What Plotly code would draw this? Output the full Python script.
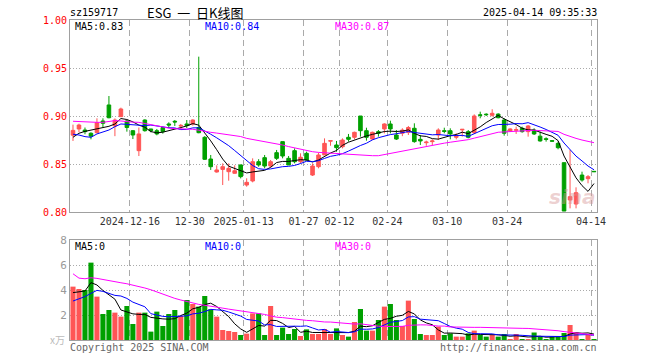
import plotly.graph_objects as go
import pandas as pd

# ---------------- data ----------------
holidays = ['2025-01-01', '2025-01-28', '2025-01-29', '2025-01-30', '2025-01-31',
            '2025-02-03', '2025-02-04', '2025-04-04']
dates = [d.strftime('%Y-%m-%d') for d in pd.bdate_range('2024-12-02', '2025-04-14')
         if d.strftime('%Y-%m-%d') not in holidays]

opens = [.880, .8865, .8854, .882, .8826, .8948, .9115, .8896, .8993, .8948,
         .8847, .8639, .8958, .8865, .8847, .888, .8917, .8945, .8895, .8917,
         .8917, .888, .8778, .8552, .8417, .8444, .842, .8403, .849, .8281,
         .8323, .8524, .8566, .8479, .8618, .8733, .8559, .8639, .8524, .8611,
         .8385, .8472, .8594, .8738, .8698, .868, .8778, .8778, .900, .8847,
         .876, .8837, .8865, .8917, .8802, .882, .883, .8872, .8757, .8722,
         .8733, .8802, .8847, .8847, .8778, .8855, .8837, .8826, .9012, .9019,
         .9007, .902, .8958, .8844, .8851, .8872, .8837, .8854, .879, .8763,
         .8743, .8715, .8514, .8125, .8083, .8385, .8347, .8424]
highs = [.891, .892, .888, .883, .8976, .8976, .9208, .8975, .9087, .8958,
         .8854, .888, .8965, .8866, .8865, .8886, .8934, .8958, .8917, .8958,
         .8965, .9618, .879, .8594, .8486, .8507, .8507, .8486, .8493, .8351,
         .8559, .855, .8594, .8542, .8646, .8733, .8583, .8663, .8611, .8628,
         .8507, .8618, .8767, .8743, .874, .8767, .8813, .8837, .900, .8878,
         .8837, .8854, .8924, .8951, .8854, .8872, .8896, .8924, .8802, .8743,
         .8757, .8872, .8878, .8872, .882, .8861, .8854, .9017, .9045, .9028,
         .907, .9028, .8976, .8872, .8889, .8889, .8906, .8872, .8837, .8778,
         .8747, .8733, .8514, .8646, .8257, .842, .8385, .8424]
lows = [.874, .883, .881, .8757, .882, .888, .8976, .879, .899, .8837,
        .876, .8583, .8837, .883, .8799, .8816, .8875, .8896, .8865, .8875,
        .890, .882, .8542, .8438, .841, .8281, .8326, .840, .835, .8264,
        .8309, .8472, .8455, .8465, .8542, .8559, .849, .8507, .8507, .8535,
        .8375, .8455, .8594, .869, .8628, .8663, .8733, .8757, .8785, .8743,
        .875, .8785, .8819, .8819, .875, .879, .8802, .8722, .8698, .869,
        .8698, .875, .882, .8757, .8757, .8785, .8767, .8813, .8976, .900,
        .8993, .8976, .8795, .8837, .8813, .8826, .8785, .8802, .8733, .8733,
        .8736, .8653, .801, .8038, .8038, .8316, .8299, .8417]
closes = [.885, .8906, .8837, .879, .893, .8924, .8982, .8958, .9073, .888,
          .8802, .8813, .8847, .8847, .8813, .8837, .8906, .8938, .8902, .89,
          .8958, .8826, .8549, .8472, .8438, .8472, .8455, .843, .8368, .8309,
          .8524, .849, .8479, .8524, .8559, .8583, .849, .8524, .857, .8542,
          .8479, .8594, .8715, .8743, .867, .875, .8757, .883, .8847, .8778,
          .883, .882, .8917, .8865, .876, .8854, .888, .8733, .874, .8728,
          .874, .8854, .884, .8813, .879, .8861, .8778, .900, .9007, .9014,
          .9028, .8982, .882, .8865, .8858, .8837, .8896, .8813, .874, .8757,
          .8738, .867, .801, .816, .8201, .8333, .8368, .842]
volumes = [4.27, 4.08, 4.0, 6.19, 3.47, 2.08, 2.4, 2.19, 1.87, 2.72,
           1.28, 2.19, 2.19, 0.67, 2.27, 1.12, 2.08, 2.4, 1.92, 3.2,
           2.88, 2.67, 3.52, 2.45, 1.87, 0.8, 0.72, 0.64, 0.4, 0.51,
           2.13, 2.13, 0.4, 2.72, 0.4, 0.99, 0.48, 0.88, 0.32, 0.85,
           0.48, 0.48, 0.88, 0.48, 0.93, 0.4, 0.27, 1.44, 2.48, 0.75,
           0.75, 1.6, 2.67, 2.88, 1.6, 1.12, 3.15, 1.68, 0.48, 0.4,
           0.4, 1.07, 0.4, 0.53, 0.27, 0.27, 0.53, 0.75, 0.4, 0.27,
           0.4, 0.27, 0.48, 0.08, 0.48, 0.08, 0.08, 0.6, 0.27, 0.08,
           0.27, 0.27, 0.56, 1.2, 0.6, 0.08, 0.4, 0.08]

# moving-average values for days before a full window exists
price_ma5_head = [.8778, .882, .884, .8854]
price_ma10_head = [.881, .8802, .8785, .8778, .8813, .8837, .8854, .8889, .8917]
price_ma30_head = [.8945, .8941, .8938, .8936, .8934, .8934, .8945, .8952, .8948, .894,
                   .8936, .8934, .8922, .891, .8895, .8882, .8874, .8868, .8866, .8865,
                   .8862, .8852, .8838, .883, .8822, .8813, .8804, .8795, .8786]
vol_ma5_head = [3.79, 3.84, 3.92, 4.59]
vol_ma10_head = [3.12, 3.28, 3.47, 3.73, 3.97, 3.89, 3.73, 3.57, 3.52]
vol_ma30_head = [5.3, 4.95, 4.9, 4.98, 4.93, 4.83, 4.75, 4.68, 4.58, 4.5,
                 4.4, 4.27, 4.16, 4.02, 3.85, 3.65, 3.45, 3.33, 3.2, 3.08,
                 2.95, 2.85, 2.78, 2.72, 2.62, 2.55, 2.47, 2.4, 2.33]

tick_dates = ['2024-12-16', '2024-12-30', '2025-01-13', '2025-01-27', '2025-02-12',
              '2025-02-24', '2025-03-10', '2025-03-24', '2025-04-14']
tick_labels = ['2024-12-16', '12-30', '2025-01-13', '01-27', '02-12',
               '02-24', '03-10', '03-24', '04-14']
price_ticks = [0.80, 0.85, 0.90, 0.95, 1.00]
vol_ticks = [2, 4, 6, 8]

# ---------------- derived ----------------
xs = list(range(len(dates)))


def ma(values, n, head):
    s = pd.Series(values).rolling(n).mean().tolist()
    s[:n - 1] = head
    return s


pma5, pma10, pma30 = ma(closes, 5, price_ma5_head), ma(closes, 10, price_ma10_head), ma(closes, 30, price_ma30_head)
vma5, vma10, vma30 = ma(volumes, 5, vol_ma5_head), ma(volumes, 10, vol_ma10_head), ma(volumes, 30, vol_ma30_head)

UP = '#FF5555'
DN = '#00A000'
vol_colors = [UP if c > o else DN for o, c in zip(opens, closes)]
tickvals = [dates.index(d) - 0.5 for d in tick_dates]

fig = go.Figure()
fig.add_trace(go.Candlestick(
    x=xs, open=opens, high=highs, low=lows, close=closes,
    increasing=dict(line=dict(color=UP, width=1), fillcolor=UP),
    decreasing=dict(line=dict(color=DN, width=1), fillcolor=DN),
    whiskerwidth=0, hoverinfo='skip', xaxis='x', yaxis='y'))
for vals, col in [(pma5, 'black'), (pma10, '#0000FF'), (pma30, '#FF00FF')]:
    fig.add_trace(go.Scatter(x=xs, y=vals, mode='lines', line=dict(color=col, width=1),
                             hoverinfo='skip', xaxis='x', yaxis='y'))

fig.add_trace(go.Bar(x=xs, y=volumes, marker=dict(color=vol_colors, line=dict(width=0)),
                     hoverinfo='skip', xaxis='x2', yaxis='y2'))
for vals, col in [(vma5, 'black'), (vma10, '#0000FF'), (vma30, '#FF00FF')]:
    fig.add_trace(go.Scatter(x=xs, y=vals, mode='lines', line=dict(color=col, width=1),
                             hoverinfo='skip', xaxis='x2', yaxis='y2'))

MONO = 'DejaVu Sans Mono'
GRID = '#AAAAAA'
BORDER = '#A0A0A0'

common_x = dict(range=[-0.5, len(xs) - 0.5], tickvals=tickvals, showgrid=True, gridcolor=GRID,
                griddash='6px,4px', gridwidth=1, showline=True, mirror=True, linecolor=BORDER,
                linewidth=1, ticks='', zeroline=False, tickangle=0, fixedrange=True)

fig.update_layout(
    width=660, height=360,
    margin=dict(l=70, r=63, t=20, b=20),
    paper_bgcolor='white', plot_bgcolor='white',
    showlegend=False, boxgap=0.15, bargap=0.15,
    xaxis=dict(common_x, anchor='y', ticktext=tick_labels, rangeslider=dict(visible=False),
               tickfont=dict(family=MONO, size=10, color='#333333')),
    yaxis=dict(domain=[0.4, 1.0], range=[0.80, 1.00], tickvals=price_ticks,
               ticktext=['%.2f' % v for v in price_ticks], showgrid=True, gridcolor=GRID,
               griddash='1px,2px', showline=True, mirror=True, linecolor=BORDER, ticks='',
               zeroline=False, tickfont=dict(family=MONO, size=10, color='#FF0000')),
    xaxis2=dict(common_x, anchor='y2', matches='x', showticklabels=False),
    yaxis2=dict(domain=[0.0, 0.3125], range=[0, 8], tickvals=vol_ticks,
                ticktext=[str(v) for v in vol_ticks], showgrid=True, gridcolor=GRID,
                griddash='1px,2px', showline=True, mirror=True, linecolor=BORDER, ticks='',
                zeroline=False, tickfont=dict(family=MONO, size=11, color='#999999')),
)


def px(x):
    return (x - 70) / 527.0


def py(y):
    return (340 - y) / 320.0


def text(x, y, s, color='black', anchor='left', size=10, family=MONO, **kw):
    fig.add_annotation(x=px(x), y=py(y), xref='paper', yref='paper', text=s, showarrow=False,
                       xanchor=anchor, yanchor='middle', borderpad=0,
                       font=dict(family=family, size=size, color=color, **kw))


text(69, 12.5, 'sz159717')
text(146, 12.5, 'ESG  一  日K线图', size=13, family='Noto Sans CJK SC')
text(598, 12.5, '2025-04-14 09:35:33', anchor='right')
text(74, 26, 'MA5:0.83')
text(204, 26, 'MA10:0.84', color='#0000FF')
text(334, 26, 'MA30:0.87', color='#FF00FF')
text(74, 246, 'MA5:0')
text(204, 246, 'MA10:0', color='#0000FF')
text(334, 246, 'MA30:0', color='#FF00FF')
text(66, 339, 'x万', color='#BBBBBB', anchor='right', family='Noto Sans CJK SC')
text(69, 347, 'Copyright 2025 SINA.COM', color='#666666')
text(598, 347, 'http://finance.sina.com.cn', color='#666666', anchor='right')
text(572, 197, 'sina', color='rgba(215,150,150,0.45)', anchor='center', size=20,
     family='DejaVu Sans', style='italic', weight='bold')

fig.write_html('out.html', config={'displayModeBar': False})
